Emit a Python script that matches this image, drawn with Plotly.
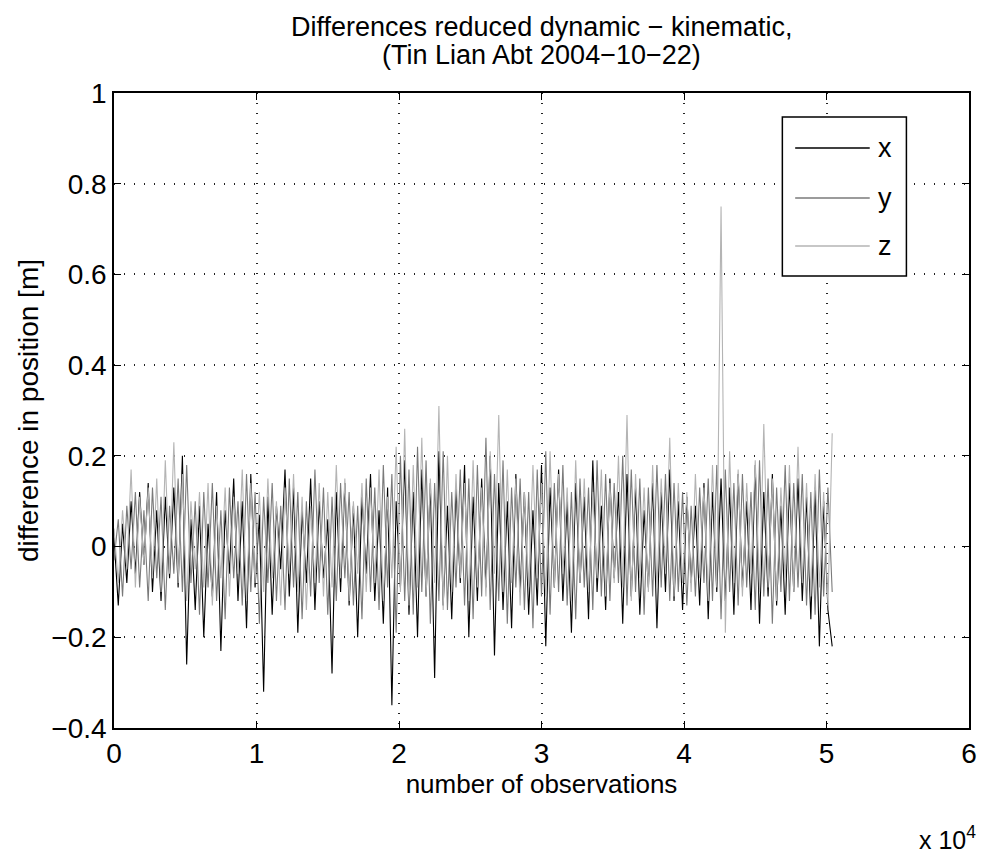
import plotly.graph_objects as go

# sample spacing of the plotted observations (observation index)
obs_step = 300

dx = [
    0.02, -0.13, 0.05, -0.08, 0.10, -0.06, 0.12, -0.04, 0.14, -0.10,
    0.08, -0.12, 0.11, -0.07, 0.13, -0.09, 0.20, -0.26, 0.06, -0.14,
    0.09, -0.20, 0.05, -0.11, 0.12, -0.23, 0.08, -0.06, 0.15, -0.12,
    0.10, -0.18, 0.16, -0.09, 0.07, -0.32, 0.11, -0.15, 0.09, -0.05,
    0.17, -0.11, 0.13, -0.19, 0.08, -0.08, 0.15, -0.14, 0.10, -0.07,
    0.06, -0.28, 0.12, -0.10, 0.14, -0.13, 0.09, -0.20, 0.11, -0.06,
    0.16, -0.12, 0.08, -0.17, 0.13, -0.35, 0.10, -0.09, 0.19, -0.15,
    0.12, -0.20, 0.17, -0.11, 0.14, -0.29, 0.21, -0.13, 0.09, -0.16,
    0.13, -0.08, 0.18, -0.20, 0.11, -0.12, 0.15, -0.09, 0.20, -0.24,
    0.14, -0.14, 0.10, -0.18, 0.16, -0.10, 0.12, -0.15, 0.08, -0.13,
    0.18, -0.22, 0.13, -0.09, 0.17, -0.12, 0.10, -0.19, 0.14, -0.08,
    0.11, -0.16, 0.19, -0.10, 0.09, -0.14, 0.15, -0.07, 0.12, -0.17,
    0.16, -0.11, 0.13, -0.15, 0.08, -0.09, 0.14, -0.18, 0.12, -0.10,
    0.17, -0.12, 0.10, -0.14, 0.11, -0.08, 0.09, -0.13, 0.14, -0.16,
    0.12, -0.10, 0.15, -0.12, 0.13, -0.15, 0.16, -0.09, 0.10, -0.14,
    0.18, -0.17, 0.12, -0.11, 0.16, -0.13, 0.09, -0.15, 0.14, -0.10,
    0.15, -0.12, 0.11, -0.16, 0.13, -0.22, 0.10, -0.14, -0.22,
]

dy = [
    -0.03, 0.06, -0.11, 0.09, -0.05, 0.12, -0.09, 0.08, -0.12, 0.13,
    -0.07, 0.11, -0.14, 0.09, -0.06, 0.15, -0.10, 0.18, -0.08, 0.10,
    -0.15, 0.12, -0.09, 0.14, -0.12, 0.08, -0.16, 0.13, -0.07, 0.10,
    -0.13, 0.16, -0.10, 0.12, -0.17, 0.11, -0.08, 0.14, -0.12, 0.09,
    -0.14, 0.15, -0.09, 0.12, -0.16, 0.10, -0.11, 0.17, -0.08, 0.13,
    -0.15, 0.11, -0.12, 0.14, -0.07, 0.12, -0.13, 0.09, -0.16, 0.15,
    -0.10, 0.13, -0.14, 0.18, -0.09, 0.16, -0.19, 0.20, -0.12, 0.17,
    -0.15, 0.22, -0.10, 0.19, -0.17, 0.14, -0.12, 0.21, -0.14, 0.12,
    -0.09, 0.17, -0.13, 0.15, -0.16, 0.18, -0.11, 0.24, -0.14, 0.16,
    -0.12, 0.19, -0.17, 0.13, -0.09, 0.15, -0.14, 0.12, -0.18, 0.17,
    -0.11, 0.21, -0.15, 0.14, -0.10, 0.18, -0.13, 0.12, -0.16, 0.15,
    -0.09, 0.13, -0.14, 0.19, -0.11, 0.16, -0.12, 0.14, -0.08, 0.20,
    -0.13, 0.17, -0.10, 0.15, -0.15, 0.13, -0.11, 0.18, -0.09, 0.16,
    -0.12, 0.14, -0.10, 0.12, -0.13, 0.09, -0.11, 0.13, -0.08, 0.15,
    -0.12, 0.18, -0.16, 0.17, -0.10, 0.14, -0.13, 0.16, -0.09, 0.12,
    -0.14, 0.19, -0.11, 0.15, -0.17, 0.13, -0.10, 0.18, -0.12, 0.14,
    -0.09, 0.16, -0.13, 0.12, -0.15, 0.17, -0.11, 0.13, -0.10,
]

dz = [
    0.04, -0.08, 0.08, -0.05, 0.17, -0.09, 0.11, -0.04, 0.13, -0.07,
    0.15, -0.10, 0.19, -0.06, 0.23, -0.08, 0.16, -0.12, 0.10, -0.05,
    0.12, -0.09, 0.14, -0.13, 0.09, -0.07, 0.13, -0.11, 0.11, -0.06,
    0.17, -0.12, 0.14, -0.08, 0.12, -0.10, 0.15, -0.07, 0.10, -0.13,
    0.13, -0.06, 0.16, -0.10, 0.11, -0.14, 0.09, -0.08, 0.14, -0.11,
    0.12, -0.09, 0.18, -0.07, 0.15, -0.12, 0.10, -0.06, 0.14, -0.10,
    0.13, -0.08, 0.17, -0.12, 0.11, -0.07, 0.22, -0.10, 0.26, -0.13,
    0.18, -0.09, 0.24, -0.11, 0.15, -0.08, 0.31, -0.14, 0.20, -0.10,
    0.16, -0.07, 0.14, -0.12, 0.19, -0.09, 0.13, -0.11, 0.21, -0.06,
    0.29, -0.10, 0.17, -0.08, 0.15, -0.13, 0.12, -0.09, 0.18, -0.07,
    0.14, -0.11, 0.21, -0.09, 0.16, -0.06, 0.13, -0.12, 0.19, -0.08,
    0.15, -0.10, 0.12, -0.07, 0.17, -0.11, 0.14, -0.08, 0.20, -0.09,
    0.29, -0.12, 0.16, -0.07, 0.13, -0.10, 0.18, -0.09, 0.15, -0.06,
    0.24, -0.11, 0.14, -0.08, 0.12, -0.10, 0.16, -0.07, 0.13, -0.12,
    0.18, -0.09, 0.75, -0.19, 0.21, -0.08, 0.17, -0.11, 0.14, -0.06,
    0.19, -0.10, 0.27, -0.09, 0.15, -0.12, 0.13, -0.07, 0.18, -0.10,
    0.22, -0.08, 0.14, -0.11, 0.16, -0.09, 0.12, -0.13, 0.25,
]

series_names = ["x", "y", "z"]
series_colors = ["#000000", "#7a7a7a", "#b4b4b4"]

x_tickvals = [0, 10000, 20000, 30000, 40000, 50000, 60000]
x_ticktext = ["0", "1", "2", "3", "4", "5", "6"]
y_tickvals = [-0.4, -0.2, 0, 0.2, 0.4, 0.6, 0.8, 1.0]
y_ticktext = ["\u22120.4", "\u22120.2", "0", "0.2", "0.4", "0.6", "0.8", "1"]

title_lines = ["Differences reduced dynamic \u2212 kinematic,", "(Tin Lian Abt 2004\u221210\u221222)"]

obs = [i * obs_step for i in range(len(dx))]

FONT = "Liberation Sans, Arial, sans-serif"

fig = go.Figure()
for name, vals, col in zip(series_names, [dx, dy, dz], series_colors):
    fig.add_trace(go.Scatter(x=obs, y=vals, mode="lines", name=name,
                             line=dict(color=col, width=1.1), showlegend=False))

# page body has an 8px margin: size the figure so the plot lands where the reference has it
fig.update_layout(
    width=981, height=848,
    margin=dict(l=106, r=14, t=85, b=128),
    paper_bgcolor="white", plot_bgcolor="white",
    font=dict(family=FONT, color="black", size=26),
)

# title as two annotations (tight line spacing like the reference)
for txt, yy in zip(title_lines, [1.104, 1.0598]):
    fig.add_annotation(text=txt, xref="paper", yref="paper", x=0.5, y=yy,
                       xanchor="center", yanchor="middle", showarrow=False,
                       font=dict(size=27))

grid_dash = "1px,9px"
fig.update_xaxes(range=[0, 60000], tickvals=x_tickvals, ticktext=x_ticktext,
                 showline=True, linecolor="black", linewidth=1.5, mirror="allticks",
                 ticks="inside", ticklen=7, tickcolor="black",
                 showgrid=True, gridcolor="#222222", gridwidth=1.5, griddash=grid_dash,
                 zeroline=False, tickfont=dict(size=28),
                 title=dict(text="number of observations", font=dict(size=26), standoff=2))
fig.update_yaxes(range=[-0.4, 1.0], tickvals=y_tickvals, ticktext=y_ticktext,
                 showline=True, linecolor="black", linewidth=1.5, mirror="allticks",
                 ticks="inside", ticklen=7, tickcolor="black",
                 showgrid=True, gridcolor="#222222", gridwidth=1.5, griddash=grid_dash,
                 zeroline=False, tickfont=dict(size=28),
                 title=dict(text="difference in position [m]", font=dict(size=28), standoff=5))

# exponent label
fig.add_annotation(text="x 10<sup>4</sup>", xref="paper", yref="paper",
                   x=1.01, y=-0.173, xanchor="right", yanchor="middle",
                   showarrow=False, font=dict(size=25))

# legend box (drawn manually to match long MATLAB legend lines)
fig.add_shape(type="rect", xref="paper", yref="paper",
              x0=0.7817, x1=0.9268, y0=0.7118, y1=0.9622,
              line=dict(color="black", width=1.5), fillcolor="white", layer="above")
leg_y = [0.9134, 0.8346, 0.7591]
for name, col, yy in zip(series_names, series_colors, leg_y):
    fig.add_shape(type="line", xref="paper", yref="paper",
                  x0=0.7967, x1=0.8839, y0=yy, y1=yy,
                  line=dict(color=col, width=1.5), layer="above")
    fig.add_annotation(text=name, xref="paper", yref="paper", x=0.9013, y=yy,
                       xanchor="center", yanchor="middle", showarrow=False,
                       font=dict(size=27))

fig.write_html("out.html")
